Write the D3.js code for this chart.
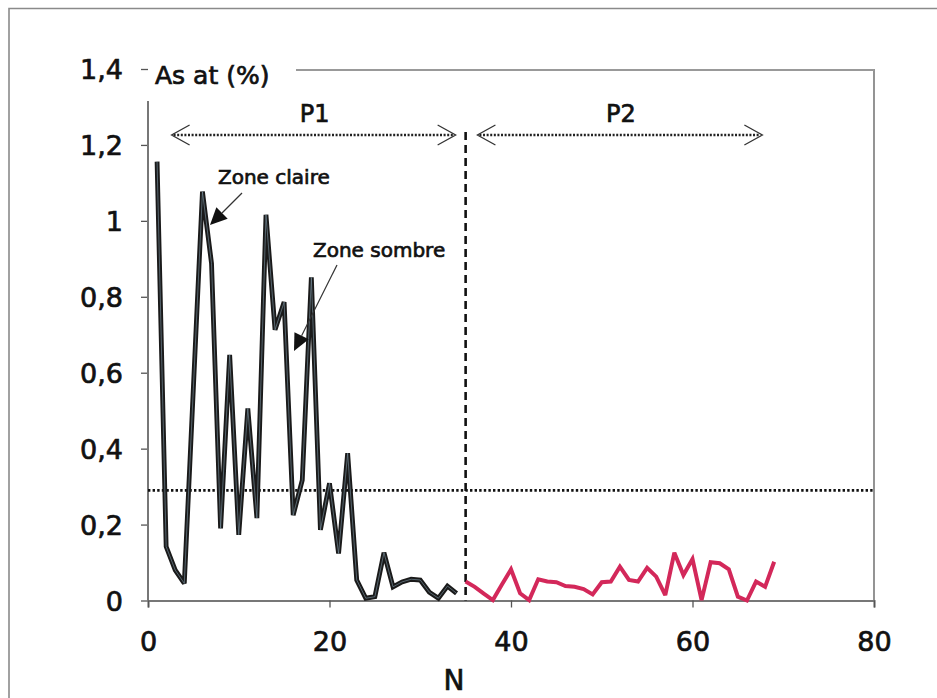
<!DOCTYPE html>
<html><head><meta charset="utf-8">
<script src="https://cdn.jsdelivr.net/npm/d3@7"></script>
<style>
html,body{margin:0;padding:0;background:#fff;}
svg{display:block;font-family:"Comic Sans MS","DejaVu Sans",sans-serif;}
svg text{stroke:#111;stroke-width:0.7px;}
</style></head>
<body><svg id="chart" width="937" height="698"></svg>
<script>
// ---- data ----
const p1N = [1,2,3,4,5,6,7,8,9,10,11,12,13,14,15,16,17,18,19,20,21,22,23,24,25,26,27,28,29,30,31,32,33,34];
const p1Values = [1.156,0.142,0.080,0.045,0.56,1.077,0.888,0.190,0.647,0.173,0.506,0.217,1.016,0.713,0.786,0.225,0.317,0.851,0.186,0.309,0.124,0.388,0.054,0.006,0.010,0.126,0.036,0.049,0.056,0.054,0.022,0.006,0.038,0.019];
const p2N = [35,36,37,38,39,40,41,42,43,44,45,46,47,48,49,50,51,52,53,54,55,56,57,58,59,60,61,62,63,64,65,66,67,68,69];
const p2Values = [0.050,0.036,0.018,0.001,0.042,0.082,0.019,0.001,0.056,0.050,0.048,0.038,0.036,0.030,0.016,0.048,0.050,0.089,0.054,0.050,0.086,0.063,0.014,0.126,0.067,0.109,0.001,0.101,0.098,0.082,0.010,0.000,0.050,0.036,0.102];
const xTicks = [0,20,40,60,80];
const yTicks = [0,0.2,0.4,0.6,0.8,1,1.2,1.4];
const threshold = 0.29;
const boundaryN = 35;
const periods = [{label:"P1", from:2.6, to:33.9}, {label:"P2", from:36.3, to:67.7}];
const yLabel = "As at (%)";
const xLabel = "N";
const annotations = [
  {text:"Zone claire", tx:218, ty:184},
  {text:"Zone sombre", tx:313, ty:257}
];

// ---- scales ----
const svg = d3.select("#chart");
const L = 148, R = 874, T = 69, B = 600.5;
const x = d3.scaleLinear().domain([0,80]).range([L,R]);
const y = d3.scaleLinear().domain([0,1.4]).range([B,T]);
const fmt = d => d3.format(".1~f")(d).replace(".", ",");

// outer frame
svg.append("path").attr("d","M9,698 V8.5 H937").attr("fill","none").attr("stroke","#8a8a8a").attr("stroke-width",1.6);

// plot border (right + top)
svg.append("line").attr("x1",R).attr("x2",R).attr("y1",T).attr("y2",B).attr("stroke","#888").attr("stroke-width",1.8);
svg.append("line").attr("x1",296).attr("x2",R).attr("y1",T+1).attr("y2",T+1).attr("stroke","#999").attr("stroke-width",1.8);

// y axis
const yAxis = svg.append("g").attr("transform",`translate(${L},0)`)
  .call(d3.axisLeft(y).tickValues(yTicks).tickFormat(fmt).tickSize(7).tickPadding(18));
yAxis.select(".domain").remove();
yAxis.append("line").attr("x1",0).attr("x2",0).attr("y1",101).attr("y2",B).attr("stroke","#777").attr("stroke-width",2);
yAxis.selectAll(".tick line").attr("stroke","#555").attr("stroke-width",1.3);
yAxis.selectAll(".tick text").attr("font-size",27).attr("fill","#111").attr("font-family","\"Comic Sans MS\",\"DejaVu Sans\",sans-serif").attr("dy","0.36em");

// x axis
const xAxis = svg.append("g").attr("transform",`translate(0,${B})`)
  .call(d3.axisBottom(x).tickValues(xTicks).tickFormat(d3.format("d")).tickSize(7).tickPadding(24));
xAxis.select(".domain").attr("stroke","#777").attr("stroke-width",2);
xAxis.selectAll(".tick line").attr("stroke","#555").attr("stroke-width",1.3);
xAxis.selectAll(".tick text").attr("font-size",27).attr("fill","#111").attr("font-family","\"Comic Sans MS\",\"DejaVu Sans\",sans-serif");

// axis titles
svg.append("text").attr("x",155).attr("y",84).attr("font-size",25).attr("fill","#111").text(yLabel);
svg.append("text").attr("x",(x(0)+x(80))/2 - 57).attr("y",690).attr("text-anchor","middle").attr("font-size",28).attr("fill","#111").text(xLabel);

// threshold dotted line
svg.append("line").attr("x1",L).attr("x2",R).attr("y1",y(threshold)).attr("y2",y(threshold))
  .attr("stroke","#111").attr("stroke-width",2.8).attr("stroke-dasharray","2.4,2.2");

// boundary dashed line
svg.append("line").attr("x1",x(boundaryN)).attr("x2",x(boundaryN)).attr("y1",132).attr("y2",B)
  .attr("stroke","#111").attr("stroke-width",2.6).attr("stroke-dasharray","8,5");

// period arrows
const py = 135;
periods.forEach(p => {
  const x1 = x(p.from), x2 = x(p.to);
  svg.append("line").attr("x1",x1+2).attr("x2",x2-2).attr("y1",py).attr("y2",py)
    .attr("stroke","#222").attr("stroke-width",2.6).attr("stroke-dasharray","2,1.6");
  svg.append("path").attr("d",`M${x1+18},${py-10} L${x1},${py} L${x1+18},${py+10}`).attr("fill","none").attr("stroke","#333").attr("stroke-width",1.3);
  svg.append("path").attr("d",`M${x2-18},${py-10} L${x2},${py} L${x2-18},${py+10}`).attr("fill","none").attr("stroke","#333").attr("stroke-width",1.3);
  svg.append("text").attr("x",(x1+x2)/2+1).attr("y",122).attr("text-anchor","middle").attr("font-size",24).attr("fill","#111").text(p.label);
});

// series lines
const line = d3.line().x(d => x(d[0])).y(d => y(d[1]));
const p1 = p1N.map((n,i) => [n,p1Values[i]]);
const p2 = p2N.map((n,i) => [n,p2Values[i]]);
svg.append("path").datum(p1).attr("d",line).attr("fill","none").attr("stroke","#1a1a1a").attr("stroke-width",4.8).attr("stroke-linejoin","miter").attr("stroke-miterlimit",3);
svg.append("path").datum(p1).attr("d",line).attr("fill","none").attr("stroke","#7f97a6").attr("stroke-width",1).attr("stroke-opacity",0.6).attr("stroke-linejoin","miter").attr("stroke-miterlimit",3);
svg.append("path").datum(p2).attr("d",line).attr("fill","none").attr("stroke","#d3285a").attr("stroke-width",4).attr("stroke-linejoin","miter").attr("stroke-miterlimit",3);

// annotations
annotations.forEach(a => {
  svg.append("text").attr("x",a.tx).attr("y",a.ty).attr("font-size",20).attr("fill","#111").text(a.text);
});
// arrow lines with filled heads
const arrows = [
  {sx:242, sy:193, tx:210, ty:225},
  {sx:337, sy:265, tx:294, ty:351}
];
arrows.forEach(a => {
  const dx = a.tx - a.sx, dy = a.ty - a.sy, len = Math.hypot(dx,dy);
  const ux = dx/len, uy = dy/len, hl = 17, hw = 8;
  const bx = a.tx - ux*hl, by = a.ty - uy*hl;
  svg.append("line").attr("x1",a.sx).attr("y1",a.sy).attr("x2",bx).attr("y2",by).attr("stroke","#333").attr("stroke-width",1.2);
  svg.append("path").attr("d",`M${a.tx},${a.ty} L${bx - uy*hw},${by + ux*hw} L${bx + uy*hw},${by - ux*hw} Z`).attr("fill","#111");
});
</script>
</body></html>
